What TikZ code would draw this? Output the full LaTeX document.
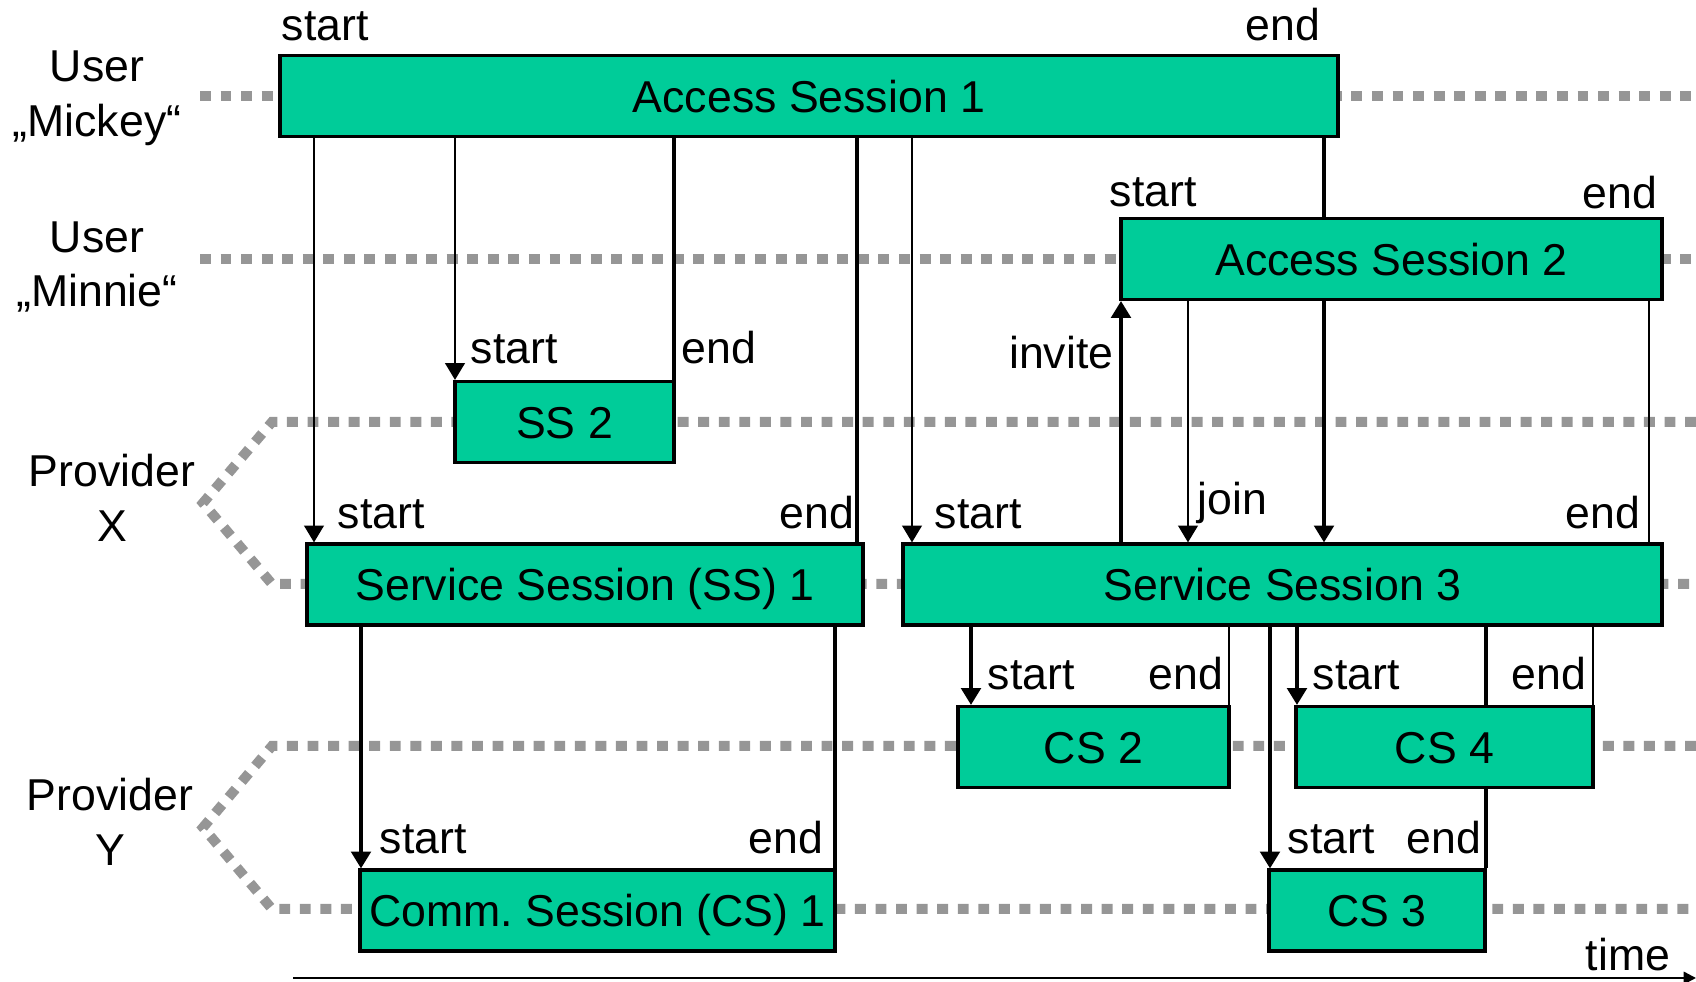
\documentclass[tikz,border=0pt]{standalone}
\usepackage{fontspec}
\setmainfont{Liberation Sans}
\usetikzlibrary{arrows.meta, backgrounds}
\definecolor{sessgreen}{RGB}{0,204,153}
\definecolor{lanegray}{RGB}{150,150,150}

\begin{document}
\begin{tikzpicture}[
    font=\fontsize{12.7}{15.6}\selectfont,
    every node/.style={align=center},
    sess/.style={draw, line width=0.9pt, fill=sessgreen, inner sep=0pt,
                 minimum height=0.81cm, text height=9.2pt, text depth=0pt},
    lbl/.style={inner sep=0pt},
    lane/.style={draw=lanegray, line width=2.85pt, dash pattern=on 3.1pt off 2.75pt},
    conn/.style={line width=0.65pt},
    bconn/.style={line width=0.95pt},
    trig/.style={-{Triangle[length=4.8pt, width=5.6pt]}},
  ]
  \useasboundingbox (0,0) rectangle (16.96,9.82);

  % parties
  \node[lbl] (mickey) at (0.97,8.84) {User\\„Mickey“};
  \node[lbl] (minnie) at (0.97,7.15) {User\\„Minnie“};
  \node[lbl] (provx) at (1.12,4.84) {Provider\\X};
  \node[lbl] (provy) at (1.10,1.60) {Provider\\Y};

  % sessions
  \node[sess, minimum width=10.58cm] (as1) at (8.09,8.86) {Access Session 1};
  \node[sess, minimum width=5.41cm] (as2) at (13.915,7.23) {Access Session 2};
  \node[sess, minimum width=2.19cm] (ss2) at (5.645,5.60) {SS 2};
  \node[sess, minimum width=5.56cm] (ss1) at (5.85,3.975) {Service Session (SS) 1};
  \node[sess, minimum width=7.59cm] (ss3) at (12.825,3.975) {Service Session 3};
  \node[sess, minimum width=2.71cm] (cs2) at (10.935,2.35) {CS 2};
  \node[sess, minimum width=2.97cm] (cs4) at (14.445,2.35) {CS 4};
  \node[sess, minimum width=4.75cm] (cs1) at (5.975,0.715) {Comm.\ Session (CS) 1};
  \node[sess, minimum width=2.16cm] (cs3) at (13.77,0.715) {CS 3};

  % points in time
  \coordinate (t1) at (3.14,0);
  \coordinate (t2) at (4.55,0);
  \coordinate (t3) at (6.74,0);
  \coordinate (t4) at (8.57,0);
  \coordinate (t5) at (9.12,0);
  \coordinate (t6) at (13.24,0);
  \coordinate (t7) at (11.21,0);
  \coordinate (t8) at (11.88,0);
  \coordinate (t9) at (16.49,0);
  \coordinate (t10) at (3.61,0);
  \coordinate (t11) at (8.35,0);
  \coordinate (t12) at (9.71,0);
  \coordinate (t13) at (12.29,0);
  \coordinate (t14) at (12.70,0);
  \coordinate (t15) at (12.97,0);
  \coordinate (t16) at (14.86,0);
  \coordinate (t17) at (15.93,0);
  \coordinate (ax0) at (2.93,0.04);
  \coordinate (ax1) at (16.96,0.04);

  % start / end labels
  \node[lbl, anchor=base west] (as1s) at (2.81,9.41) {start};
  \node[lbl, anchor=base east] (as1e) at (13.21,9.41) {end};
  \node[lbl, anchor=base west] (as2s) at (11.09,7.75) {start};
  \node[lbl, anchor=base east] (as2e) at (16.58,7.73) {end};
  \node[lbl, anchor=base west] (ss2s) at (4.70,6.18) {start};
  \node[lbl, anchor=base west] (ss2e) at (6.81,6.18) {end};
  \node[lbl, anchor=base east] (inv) at (11.14,6.13) {invite};
  \node[lbl, anchor=base west] (ss1s) at (3.37,4.53) {start};
  \node[lbl, anchor=base east] (ss1e) at (8.55,4.53) {end};
  \node[lbl, anchor=base west] (ss3s) at (9.34,4.53) {start};
  \node[lbl, anchor=base west] (join) at (11.97,4.67) {join};
  \node[lbl, anchor=base east] (ss3e) at (16.41,4.53) {end};
  \node[lbl, anchor=base west] (cs2s) at (9.87,2.92) {start};
  \node[lbl, anchor=base east] (cs2e) at (12.24,2.92) {end};
  \node[lbl, anchor=base west] (cs4s) at (13.12,2.92) {start};
  \node[lbl, anchor=base east] (cs4e) at (15.87,2.92) {end};
  \node[lbl, anchor=base west] (cs1s) at (3.79,1.28) {start};
  \node[lbl, anchor=base east] (cs1e) at (8.24,1.28) {end};
  \node[lbl, anchor=base west] (cs3s) at (12.87,1.28) {start};
  \node[lbl, anchor=base east] (cs3e) at (14.82,1.28) {end};
  \node[lbl, anchor=base east] (time) at (16.71,0.11) {time};

  \begin{scope}[on background layer]
    % lanes
    \draw[lane] (2.00,8.86) -- (16.96,8.86);
    \draw[lane] (2.00,7.23) -- (16.96,7.23);
    \draw[lane] (16.96,5.60) -- (2.72,5.60) -- (2.03,4.79) -- (2.72,3.98) -- (16.96,3.98);
    \draw[lane] (16.96,2.36) -- (2.72,2.36) -- (2.03,1.545) -- (2.72,0.73) -- (16.96,0.73);

    % access sessions to service sessions
    \draw[conn, trig] (as1.south -| t1) -- (ss1.north -| t1);
    \draw[conn, trig] (as1.south -| t2) -- (ss2.north -| t2);
    \draw[bconn] (as1.south -| t3) -- (ss2.north -| t3);
    \draw[bconn] (as1.south -| t4) -- (ss1.north -| t4);
    \draw[conn, trig] (as1.south -| t5) -- (ss3.north -| t5);
    \draw[bconn, trig] (as1.south -| t6) -- (ss3.north -| t6);
    \draw[bconn, trig] (ss3.north -| t7) -- (as2.south -| t7);
    \draw[conn, trig] (as2.south -| t8) -- (ss3.north -| t8);
    \draw[conn] (as2.south -| t9) -- (ss3.north -| t9);

    % service sessions to comm. sessions
    \draw[bconn, trig] (ss1.south -| t10) -- (cs1.north -| t10);
    \draw[bconn] (ss1.south -| t11) -- (cs1.north -| t11);
    \draw[bconn, trig] (ss3.south -| t12) -- (cs2.north -| t12);
    \draw[conn] (ss3.south -| t13) -- (cs2.north -| t13);
    \draw[bconn, trig] (ss3.south -| t14) -- (cs3.north -| t14);
    \draw[bconn, trig] (ss3.south -| t15) -- (cs4.north -| t15);
    \draw[bconn] (ss3.south -| t16) -- (cs3.north -| t16);
    \draw[conn] (ss3.south -| t17) -- (cs4.north -| t17);

    % time axis
    \draw[conn, -{Triangle[length=3.5pt, width=3.5pt]}] (ax0) -- (ax1);
  \end{scope}
\end{tikzpicture}
\end{document}
